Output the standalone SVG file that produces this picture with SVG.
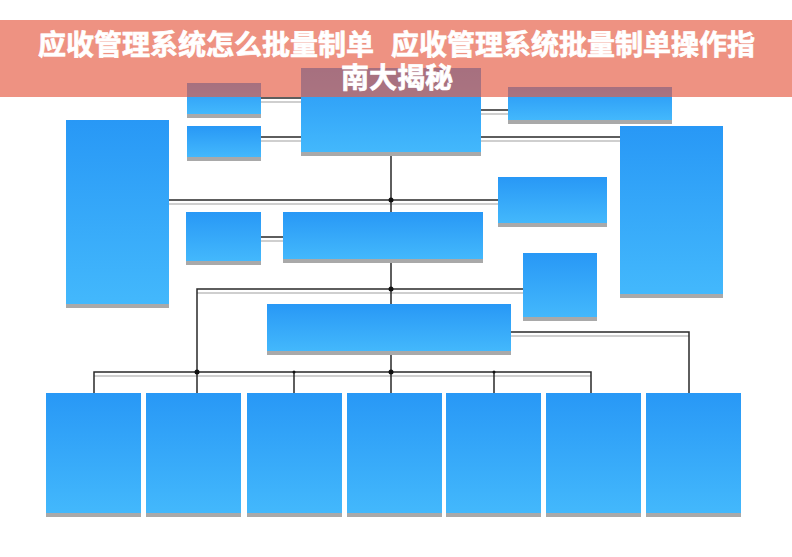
<svg xmlns="http://www.w3.org/2000/svg" width="792" height="557" viewBox="0 0 792 557">
<defs>
<linearGradient id="bg" x1="0" y1="0" x2="0" y2="1">
<stop offset="0" stop-color="#2898f6"/>
<stop offset="1" stop-color="#43b8fc"/>
</linearGradient>
</defs>
<style>
.sh{fill:#a9a9a9}
.bx{fill:url(#bg)}
.ln{fill:none;stroke:#2a2a2a;stroke-width:1.5}
.ls{fill:none;stroke:#cfcfcf;stroke-width:2}
.dot{fill:#111}
.t{font-family:"Noto Sans CJK SC","Noto Sans",sans-serif;font-weight:bold;font-size:28px;fill:#ffffff;stroke:#ffffff;stroke-width:0.7}
</style>
<rect width="792" height="557" fill="#ffffff"/>
<g id="connectors">
<g transform="translate(0,4)">
<path class="ls" d="M261,98H301M261,137H301M481,110H508M481,137H620M169,200H498M261,237H283M197,289H523M511,332H689M94,372H591"/>
</g>
<path class="ln" d="M261,98H301M261,137H301M481,110H508M481,137H620M169,200H498M261,237H283"/>
<path class="ln" d="M391,152V212M391,259V304M391,351V393"/>
<path class="ln" d="M523,289H197V372"/>
<path class="ln" d="M94,393V372H591V393M197,372V393M294,372V393M494,372V393"/>
<path class="ln" d="M511,332H689V393"/>
<circle class="dot" cx="391" cy="200" r="2.5"/>
<circle class="dot" cx="391" cy="289" r="2.5"/>
<circle class="dot" cx="391" cy="372" r="2.5"/>
<circle class="dot" cx="197" cy="372" r="2.5"/>
<circle class="dot" cx="294" cy="372" r="1.5"/>
<circle class="dot" cx="494" cy="372" r="1.5"/>
</g>
<g id="n1"><rect class="sh" x="187" y="87" width="74" height="31"/><rect class="bx" x="187" y="83" width="74" height="31"/></g>
<g id="n2"><rect class="sh" x="187" y="130" width="74" height="31"/><rect class="bx" x="187" y="126" width="74" height="31"/></g>
<g id="n3"><rect class="sh" x="301" y="72" width="180" height="84"/><rect class="bx" x="301" y="68" width="180" height="84"/></g>
<g id="n4"><rect class="sh" x="508" y="91" width="164" height="33"/><rect class="bx" x="508" y="87" width="164" height="33"/></g>
<g id="n5"><rect class="sh" x="620" y="130" width="103" height="168"/><rect class="bx" x="620" y="126" width="103" height="168"/></g>
<g id="n6"><rect class="sh" x="66" y="124" width="103" height="184"/><rect class="bx" x="66" y="120" width="103" height="184"/></g>
<g id="n7"><rect class="sh" x="498" y="181" width="109" height="46"/><rect class="bx" x="498" y="177" width="109" height="46"/></g>
<g id="n8"><rect class="sh" x="186" y="216" width="75" height="49"/><rect class="bx" x="186" y="212" width="75" height="49"/></g>
<g id="n9"><rect class="sh" x="283" y="216" width="200" height="47"/><rect class="bx" x="283" y="212" width="200" height="47"/></g>
<g id="n10"><rect class="sh" x="523" y="257" width="74" height="64"/><rect class="bx" x="523" y="253" width="74" height="64"/></g>
<g id="n11"><rect class="sh" x="267" y="308" width="244" height="47"/><rect class="bx" x="267" y="304" width="244" height="47"/></g>
<g id="n12"><rect class="sh" x="46" y="397" width="95" height="120"/><rect class="bx" x="46" y="393" width="95" height="120"/></g>
<g id="n13"><rect class="sh" x="146" y="397" width="95" height="120"/><rect class="bx" x="146" y="393" width="95" height="120"/></g>
<g id="n14"><rect class="sh" x="247" y="397" width="95" height="120"/><rect class="bx" x="247" y="393" width="95" height="120"/></g>
<g id="n15"><rect class="sh" x="347" y="397" width="95" height="120"/><rect class="bx" x="347" y="393" width="95" height="120"/></g>
<g id="n16"><rect class="sh" x="446" y="397" width="95" height="120"/><rect class="bx" x="446" y="393" width="95" height="120"/></g>
<g id="n17"><rect class="sh" x="546" y="397" width="95" height="120"/><rect class="bx" x="546" y="393" width="95" height="120"/></g>
<g id="n18"><rect class="sh" x="646" y="397" width="95" height="120"/><rect class="bx" x="646" y="393" width="95" height="120"/></g>
<g id="title">
<rect x="0" y="20" width="792" height="77" fill="#e55c44" fill-opacity="0.67"/>
<text class="t" x="38" y="55">应收管理系统怎么批量制单<tspan x="391">应收管理系统批量制单操作指</tspan></text>
<text class="t" x="397" y="88" text-anchor="middle">南大揭秘</text>
</g>
</svg>
